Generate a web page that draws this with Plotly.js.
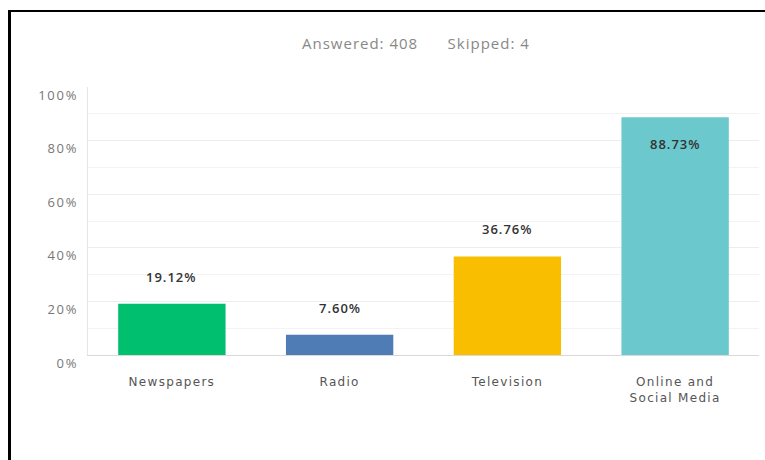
<!DOCTYPE html>
<html>
<head>
<meta charset="utf-8">
<script src="https://cdn.plot.ly/plotly-3.0.1.min.js"></script>
<style>
  html, body { margin: 0; padding: 0; background: #fff; }
  #wrap { position: relative; width: 765px; height: 460px; }
  #chart { position: absolute; left: 0; top: 0; width: 765px; height: 460px; }
  #frame { position: absolute; left: 8px; top: 10px; width: 757px; height: 450px;
           border-left: 3px solid #000; border-top: 2px solid #000; box-sizing: border-box; pointer-events: none; }
  .xtick text { letter-spacing: 1.3px; }
  .ytick text { letter-spacing: 1.8px; }
  .annotation-text { letter-spacing: 1px; }
</style>
</head>
<body>
<div id="wrap">
  <div id="chart"></div>
  <div id="frame"></div>
</div>
<script>
const categories = ["Newspapers", "Radio", "Television", "Online and<br>Social Media"];
const values = [19.12, 7.60, 36.76, 88.73];
const valueLabels = ["19.12%", "7.60%", "36.76%", "88.73%"];
const barColors = ["#00bf6f", "#507cb6", "#f9be00", "#6bc8cd"];
const yTickVals = [0, 20, 40, 60, 80, 100];
const yTickText = ["0%", "20%", "40%", "60%", "80%", "100%"];
const subtitle = "Answered: 408&nbsp;&nbsp;&nbsp;&nbsp;&nbsp;&nbsp;Skipped: 4";

const trace = {
  type: "bar",
  x: categories,
  y: values,
  marker: { color: barColors },
  hoverinfo: "none"
};

const annotations = categories.map((c, i) => ({
  x: c, y: values[i], xref: "x", yref: "y",
  text: valueLabels[i], showarrow: false,
  yshift: values[i] > 80 ? -27 : 27,
  font: { family: "Open Sans, Roboto, sans-serif", size: 13, color: "#333", weight: 600 }
}));
annotations.push({
  xref: "paper", yref: "paper", x: 0.489, y: 1, yanchor: "middle", yshift: 44,
  text: subtitle, showarrow: false,
  font: { family: "Open Sans, Roboto, sans-serif", size: 15, color: "#888" }
});

const layout = {
  width: 765, height: 460,
  margin: { l: 88, r: 6, t: 87, b: 105 },
  paper_bgcolor: "#fff", plot_bgcolor: "#fff",
  showlegend: false,
  bargap: 0.36,
  xaxis: {
    type: "category",
    showgrid: false,
    showline: true, linecolor: "#d9d9d9", linewidth: 1,
    ticks: "", ticklabelstandoff: 16,
    tickfont: { family: "DejaVu Sans, sans-serif", size: 12, color: "#555" },
    fixedrange: true
  },
  yaxis: {
    range: [0, 100],
    tickvals: yTickVals, ticktext: yTickText,
    showgrid: true, gridcolor: "#ededed", gridwidth: 1,
    minor: { dtick: 10, showgrid: true, gridcolor: "#f3f3f3", gridwidth: 1 },
    showline: true, linecolor: "#e6e6e6", linewidth: 1,
    zeroline: false,
    ticks: "", ticklabelstandoff: 6, ticklabelshift: 8,
    tickfont: { family: "Open Sans, Roboto, sans-serif", size: 13, color: "#777" },
    fixedrange: true
  },
  annotations: annotations
};

Plotly.newPlot("chart", [trace], layout, { displayModeBar: false, staticPlot: true });
</script>
</body>
</html>
